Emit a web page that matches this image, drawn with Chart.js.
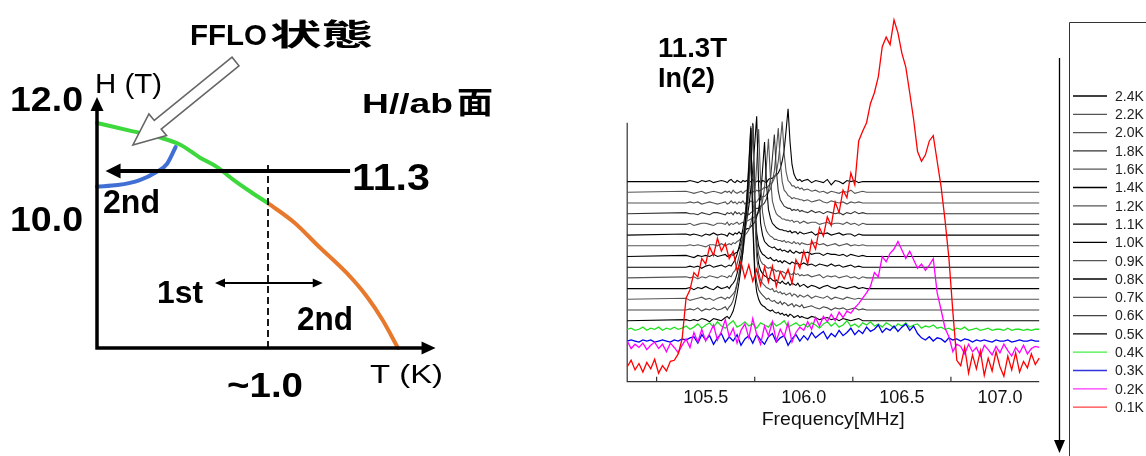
<!DOCTYPE html>
<html>
<head>
<meta charset="utf-8">
<title>FFLO NMR</title>
<script src="https://cdn.jsdelivr.net/npm/chart.js"></script>
<style>
  html, body { margin: 0; padding: 0; background: #fff; }
  body { width: 1146px; height: 456px; position: relative; overflow: hidden; }
  #phase { position: absolute; left: 0; top: 0; }
  #spectra { position: absolute; left: 560px; top: 0; }
</style>
</head>
<body>
<canvas id="phase" width="540" height="456"></canvas>
<canvas id="spectra" width="586" height="456"></canvas>
<script>
// ---------- phase diagram, H // ab ----------
const hTicks = [10.0, 12.0];
const fieldH = 11.3;   // field of the NMR sweep
const crossT = 1.0;    // where the transition changes order
const greenT = [0, 0.21, 0.37, 0.49, 0.60, 0.70, 0.80, 0.90, 1.0];
const greenH = [11.76, 11.68, 11.62, 11.55, 11.43, 11.34, 11.05, 10.72, 10.41];
const orangeT = [1.0, 1.15, 1.30, 1.46, 1.58, 1.67, 1.76];
const orangeH = [10.41, 9.69, 7.77, 5.77, 3.92, 2.15, 0.0];
const blueT = [0, 0.12, 0.25, 0.35, 0.41, 0.46];
const blueH = [10.87, 10.91, 11.05, 11.28, 11.37, 11.53];

// ---------- spectra at 11.3T, In(2) site ----------
const tempLabels = ["0.1K", "0.2K", "0.3K", "0.4K", "0.5K", "0.6K", "0.7K", "0.8K", "0.9K",
                    "1.0K", "1.1K", "1.2K", "1.4K", "1.6K", "1.8K", "2.0K", "2.2K", "2.4K"];
// vertical offset of each trace in the stack
const offsets = [2.0, 3.0, 3.8, 4.8, 5.7, 6.7, 7.7, 8.7, 9.7,
                 10.7, 11.7, 12.7, 13.7, 14.7, 15.7, 16.7, 17.7, 18.7];
const freqTicks = [105.5, 106.0, 106.5, 107.0];
const freqMinor = [105.25, 105.75, 106.25, 106.75];

const freqColor = [
  105.10, 105.12, 105.14, 105.16, 105.18, 105.20, 105.22, 105.24, 105.26, 105.28,
  105.30, 105.32, 105.34, 105.36, 105.38, 105.40, 105.42, 105.44, 105.46, 105.48,
  105.50, 105.52, 105.54, 105.56, 105.58, 105.60, 105.62, 105.64, 105.66, 105.68,
  105.70, 105.72, 105.74, 105.76, 105.78, 105.80, 105.82, 105.84, 105.86, 105.88,
  105.90, 105.92, 105.94, 105.96, 105.98, 106.00, 106.02, 106.04, 106.06, 106.08,
  106.10, 106.12, 106.14, 106.16, 106.18, 106.20, 106.22, 106.24, 106.26, 106.28,
  106.30, 106.32, 106.34, 106.36, 106.38, 106.40, 106.42, 106.44, 106.46, 106.48,
  106.50, 106.52, 106.54, 106.56, 106.58, 106.60, 106.62, 106.64, 106.66, 106.68,
  106.70, 106.72, 106.74, 106.76, 106.78, 106.80, 106.82, 106.84, 106.86, 106.88,
  106.90, 106.92, 106.94, 106.96, 106.98, 107.00, 107.02, 107.04, 107.06, 107.08,
  107.10, 107.12, 107.14, 107.16, 107.18, 107.20
];

const freqBlack = [
  105.10,
  105.40, 105.42, 105.44, 105.46, 105.48, 105.50, 105.52, 105.54, 105.56, 105.58,
  105.60, 105.61, 105.62, 105.63, 105.64, 105.65, 105.66, 105.67, 105.68, 105.69,
  105.70, 105.71, 105.72, 105.73, 105.74, 105.75, 105.76, 105.77, 105.78, 105.79,
  105.80, 105.81, 105.82, 105.83, 105.84, 105.85, 105.86, 105.87, 105.88, 105.89,
  105.90, 105.91, 105.92, 105.93, 105.94, 105.95, 105.96, 105.97, 105.98, 105.99,
  106.00, 106.02, 106.04, 106.06, 106.08, 106.10, 106.12, 106.14, 106.16, 106.18,
  106.20, 106.22, 106.24, 106.26, 106.28, 106.30, 106.32, 107.20
];

const sig01 = [
  -0.6, 0.0, -0.9, -0.3, -1.1, -0.2, -0.8, 0.1, -1.2, -0.5,
  -1.0, -0.1, 0.0, 0.6, 2.0, 5.8, 6.6, 8.2, 7.8, 9.5,
  9.0, 10.6, 9.8, 11.4, 10.2, 10.9, 9.5, 10.2, 8.4, 9.2,
  7.7, 8.9, 7.4, 8.5, 7.0, 8.7, 7.3, 8.8, 6.9, 8.3,
  7.6, 8.5, 7.2, 9.4, 8.6, 10.2, 9.0, 11.2, 10.4, 12.4,
  11.6, 13.4, 12.6, 14.8, 13.8, 15.9, 15.2, 17.5, 16.4, 20.5,
  21.4, 22.2, 24.0, 25.0, 26.5, 29.3, 30.2, 29.5, 31.8, 30.6,
  28.7, 27.4, 25.0, 22.5, 19.5, 18.6, 19.2, 20.5, 21.0, 18.6,
  16.2, 13.1, 9.5, 4.5, 0.0, -0.5, 1.2, -1.2, 0.5, -0.8,
  0.9, -1.4, 0.2, -1.0, 0.8, -0.6, -1.5, 0.4, -0.9, 0.7,
  -1.1, -0.1, -0.7, 0.6, -0.4, 0.2
];
const sig02 = [
  0.8, 0.1, 0.5, 0.2, 0.6, 0.0, 0.4, 0.7, 0.1, 0.5,
  -0.2, 0.6, 0.2, -0.3, 0.4, 1.0, 0.2, 1.6, 0.7, 1.9,
  0.8, 1.5, 2.3, 0.9, 1.7, 2.8, 1.2, 2.0, 0.6, 1.8,
  2.4, 1.1, 2.9, 1.4, 0.5, 2.2, 1.3, 2.6, 0.8, 1.9,
  1.2, 2.5, 0.7, 1.6, 2.1, 1.8, 2.6, 1.9, 3.0, 2.2,
  3.1, 2.6, 3.3, 2.7, 3.5, 3.0, 3.6, 3.4, 3.9, 4.3,
  4.8, 5.3, 5.9, 7.2, 6.8, 8.7, 8.2, 9.0, 9.4, 10.1,
  9.3, 8.5, 9.2, 8.4, 7.6, 8.0, 7.4, 7.9, 8.5, 5.3,
  3.7, 2.0, 1.2, -0.2, 0.5, 0.3, -0.4, 0.5, -0.2, 0.2,
  -0.6, 0.4, 0.0, -0.5, 0.3, -0.3, 0.5, -0.1, -0.6, 0.2,
  -0.3, 0.4, -0.4, 0.1, 0.3, 0.2
];
const sig03 = [
  0.0, 0.1, 0.0, -0.1, 0.1, 0.0, 0.1, -0.1, 0.0, 0.1,
  0.0, -0.1, 0.1, 0.0, 0.2, 0.1, 0.3, 0.4, -0.2, 0.6,
  0.1, 0.5, -0.3, 0.3, 0.7, -0.1, 0.4, 0.0, 0.6, -0.4,
  0.2, 0.5, -0.2, 0.6, 0.1, -0.3, 0.4, 0.7, -0.1, 0.3,
  0.5, -0.4, 0.2, 0.6, 0.0, 0.5, 0.1, 0.8, 0.3, 0.6,
  0.9, 0.2, 0.7, 0.4, 1.0, 0.5, 0.8, 1.2, 0.6, 1.0,
  0.7, 1.3, 0.9, 1.1, 1.5, 0.8, 1.2, 1.0, 1.4, 0.9,
  1.3, 1.6, 1.0, 1.4, 0.7, 0.3, 0.1, 0.4, 0.0, 0.3,
  0.2, -0.1, 0.3, 0.1, 0.2, 0.0, 0.2, 0.1, -0.1, 0.1,
  0.0, 0.1, 0.0, -0.1, 0.1, 0.0, 0.0, 0.1, -0.1, 0.0,
  0.1, 0.0, 0.0, 0.1, 0.0, 0.0
];
const sig04 = [
  0.1, 0.2, 0.0, 0.1, 0.3, 0.0, 0.2, 0.1, 0.3, 0.0,
  0.2, 0.1, 0.3, 0.1, 0.2, 0.4, 0.1, 0.3, 0.6, 0.2,
  0.5, 0.7, 0.3, 0.8, 0.4, 0.2, 0.6, 0.9, 0.3, 0.5,
  0.8, 0.4, 0.6, 0.2, 0.7, 0.5, 0.3, 0.8, 0.4, 0.6,
  0.9, 0.3, 0.5, 0.7, 0.4, 0.6, 0.3, 0.7, 0.5, 0.2,
  0.6, 0.8, 0.4, 0.7, 0.3, 0.5, 0.9, 0.4, 0.6, 0.3,
  0.7, 0.5, 0.8, 0.4, 0.6, 0.3, 0.7, 0.5, 0.2, 0.6,
  0.4, 0.7, 0.3, 0.5, 0.6, 0.2, 0.4, 0.3, 0.5, 0.2,
  0.3, 0.1, 0.2, 0.0, 0.2, 0.1, 0.3, 0.0, 0.1, 0.2,
  0.0, 0.1, 0.2, 0.0, 0.1, 0.1, 0.0, 0.2, 0.0, 0.1,
  0.1, 0.0, 0.1, 0.0, 0.1, 0.1
];
const sig05 = [
  0, 0.1, 0, 0.1, 0, 0.2, 0.1, -0.1, 0.2, 0.1,
  0, 0.3, 0.4, 0.2, 0.5, 0.9, 1.6, 2.5, 3.6, 4.9,
  6.5, 8.6, 11.2, 14.4, 18.0, 9.0, 4.3, 2.7, 2.0, 1.6,
  1.4, 1.3, 1.1, 1.0, 0.9, 1.0, 0.8, 0.7, 0.8, 0.6,
  0.7, 0.5, 0.6, 0.4, 0.6, 0.5, 0.3, 0.4, 0.5, 0.3,
  0.4, 0.3, 0.2, 0.4, 0.3, 0.1, 0.2, 0.3, 0.1, 0.2,
  0, 0.2, 0.1, 0, 0.1, 0.2, 0, 0, 0
];
const sig06 = [
  0, 0, 0.1, 0, 0.2, -0.1, 0.1, 0, 0.2, 0,
  0.1, 0.3, 0, 0.3, 0.5, 0.9, 1.6, 2.4, 3.4, 4.6,
  6.2, 8.3, 10.7, 13.8, 17.2, 8.6, 4.1, 2.6, 1.9, 1.6,
  1.4, 1.2, 1.0, 1.1, 0.9, 0.8, 0.9, 0.7, 0.6, 0.8,
  0.5, 0.7, 0.6, 0.4, 0.5, 0.6, 0.3, 0.5, 0.4, 0.3,
  0.5, 0.2, 0.3, 0.4, 0.2, 0.1, 0.3, 0.2, 0, 0.2,
  0.1, 0.2, 0, 0.1, 0.2, 0, 0.1, 0, 0
];
const sig07 = [
  0, 0.1, -0.1, 0, 0.1, 0.2, 0, 0.1, -0.1, 0.1,
  0.2, 0, 0.2, 0.1, 0.3, 0.5, 0.8, 1.5, 2.3, 3.3,
  4.4, 5.9, 7.8, 10.1, 13.0, 16.3, 8.2, 3.9, 2.5, 1.8,
  1.5, 1.3, 1.1, 1.0, 0.9, 1.0, 0.7, 0.8, 0.6, 0.7,
  0.5, 0.6, 0.4, 0.5, 0.6, 0.3, 0.5, 0.4, 0.2, 0.4,
  0.3, 0.2, 0.4, 0.1, 0.3, 0.2, 0.1, 0.3, 0, 0.2,
  0.1, 0, 0.2, 0.1, 0, 0.1, 0, 0, 0
];
const sig08 = [
  0, 0, 0.1, -0.1, 0.1, 0, 0.2, 0, -0.1, 0.2,
  0, 0.1, 0.2, 0, 0.3, 0.5, 0.8, 1.4, 2.2, 3.1,
  4.2, 5.5, 7.4, 9.6, 12.3, 15.4, 7.7, 3.7, 2.3, 1.7,
  1.4, 1.2, 1.1, 0.9, 1.0, 0.8, 0.7, 0.8, 0.6, 0.5,
  0.7, 0.5, 0.4, 0.6, 0.3, 0.5, 0.4, 0.3, 0.5, 0.2,
  0.3, 0.4, 0.1, 0.3, 0.2, 0, 0.2, 0.3, 0.1, 0,
  0.2, 0.1, 0, 0.1, 0.2, 0, 0.1, 0, 0
];
const sig09 = [
  0, 0.1, 0, 0.1, -0.1, 0.1, 0, 0.2, 0.1, 0,
  0.2, 0.1, 0, 0.2, 0.1, 0.5, 0.7, 1.3, 2.0, 2.9,
  3.9, 5.2, 7.0, 9.0, 11.6, 14.5, 7.3, 3.5, 2.2, 1.6,
  1.3, 1.2, 1.0, 0.9, 1.0, 0.7, 0.8, 0.6, 0.7, 0.5,
  0.6, 0.5, 0.4, 0.6, 0.4, 0.3, 0.5, 0.3, 0.4, 0.2,
  0.3, 0.2, 0.3, 0.1, 0.2, 0.3, 0, 0.2, 0.1, 0.2,
  0, 0.1, 0.2, 0, 0.1, -0.1, 0.1, 0, 0
];
const sig10 = [
  0, 0, 0.1, 0, 0.1, -0.1, 0.1, 0.2, 0, 0.1,
  0.2, 0, 0.1, 0.2, 0.1, 0.4, 0.7, 1.2, 1.9, 2.7,
  3.6, 4.8, 6.4, 8.3, 10.6, 13.3, 6.7, 3.2, 2.0, 1.5,
  1.2, 1.1, 0.9, 0.8, 0.9, 0.7, 0.6, 0.7, 0.5, 0.6,
  0.4, 0.6, 0.5, 0.4, 0.3, 0.5, 0.4, 0.3, 0.4, 0.2,
  0.3, 0.4, 0.2, 0.3, 0.1, 0.3, 0.2, 0.1, 0.3, 0.1,
  0.2, 0, 0.1, 0.2, 0, 0.1, 0, 0, 0
];
const sig11 = [
  0, 0.1, 0, -0.1, 0.1, 0, 0.1, 0, 0.2, 0,
  0.1, 0.2, 0, 0.1, 0.2, 0.1, 0.3, 0.4, 0.7, 1.2,
  1.8, 2.6, 3.5, 4.7, 6.3, 8.1, 10.5, 13.1, 6.6, 3.1,
  2.0, 1.4, 1.2, 1.0, 0.9, 0.8, 0.9, 0.7, 0.6, 0.7,
  0.5, 0.6, 0.5, 0.4, 0.6, 0.4, 0.3, 0.5, 0.4, 0.3,
  0.4, 0.3, 0.4, 0.2, 0.3, 0.3, 0.1, 0.3, 0.2, 0.2,
  0.1, 0.2, 0, 0.2, 0.1, 0, 0.1, 0, 0
];
const sig12 = [
  0, 0, 0.1, 0, 0.1, 0, -0.1, 0.1, 0.1, 0,
  0.2, 0, 0.1, 0.2, 0.1, 0.3, 0.2, 0.4, 0.5, 0.7,
  0.8, 1.0, 1.2, 1.5, 2.1, 3.0, 4.7, 7.6, 10.9, 6.0,
  3.1, 2.0, 1.4, 1.1, 0.9, 0.8, 0.6, 0.6, 0.5, 0.5,
  0.4, 0.5, 0.3, 0.4, 0.3, 0.2, 0.4, 0.2, 0.3, 0.1,
  0.3, 0.2, 0.1, 0.2, 0.3, 0.1, 0.2, 0, 0.1, 0.2,
  0, 0.1, 0.2, 0, 0.1, 0, 0.1, 0, 0
];
const sig14 = [
  0, 0.1, 0, 0.1, 0, -0.1, 0.1, 0, 0.2, 0,
  0.1, 0, -0.1, 0.2, 0.1, 0, 0.2, 0.1, 0.3, 0.1,
  0.2, 0.4, 0.6, 0.6, 0.8, 1.0, 1.2, 1.7, 2.4, 3.7,
  6.1, 8.7, 4.8, 2.4, 1.6, 1.1, 0.9, 0.7, 0.6, 0.5,
  0.5, 0.4, 0.4, 0.3, 0.4, 0.2, 0.3, 0.3, 0.1, 0.3,
  0.2, 0.1, 0.2, 0.3, 0, 0.2, 0.1, 0.2, 0, 0.1,
  0.2, 0, 0.1, 0.1, -0.1, 0.1, 0, 0, 0
];
const sig16 = [
  0, 0, 0.1, -0.1, 0, 0.1, 0.1, 0, -0.1, 0.1,
  0.1, 0, 0.2, -0.1, 0.1, 0, 0.1, 0.2, 0, 0.1,
  0.2, 0, 0.3, 0.4, 0.5, 0.6, 0.7, 0.9, 1.1, 1.5,
  2.2, 3.4, 5.6, 8.0, 4.4, 2.2, 1.5, 1.0, 0.8, 0.7,
  0.5, 0.5, 0.4, 0.4, 0.3, 0.4, 0.2, 0.3, 0.3, 0.1,
  0.2, 0.3, 0.1, 0.2, 0.2, 0, 0.1, 0.2, 0, 0.1,
  0.1, 0, 0.2, 0, 0.1, -0.1, 0.1, 0, 0
];
const sig18 = [
  0, 0.1, 0, 0, -0.1, 0.1, 0, -0.1, 0.1, 0.1,
  0, -0.1, 0.1, 0, 0.1, -0.1, 0.2, 0, 0.1, -0.1,
  0.1, 0, 0.2, -0.1, 0.1, 0.2, 0.4, 0.5, 0.5, 0.7,
  0.8, 1.0, 1.4, 2.1, 3.2, 5.2, 7.4, 4.1, 2.1, 1.3,
  1.0, 0.7, 0.6, 0.5, 0.5, 0.3, 0.4, 0.3, 0.4, 0.2,
  0.3, 0.2, 0.1, 0.3, 0.1, 0.2, 0, 0.2, 0.1, 0,
  0.1, -0.1, 0.1, 0, 0.2, 0, 0.1, 0, 0
];
const sig20 = [
  0, 0, 0.1, 0, 0.1, -0.1, 0, 0.1, 0, -0.1,
  0, 0.1, -0.1, 0, 0.2, 0, 0.1, -0.1, 0.1, 0,
  0.2, -0.1, 0.1, 0, 0.2, 0.1, 0, 0.1, 0.4, 0.3,
  0.6, 0.6, 0.8, 1.0, 1.3, 2.0, 3.0, 4.9, 7.0, 3.9,
  2.0, 1.2, 1.0, 0.7, 0.6, 0.4, 0.5, 0.4, 0.4, 0.3,
  0.3, 0.2, 0.3, 0.1, 0.2, 0.3, 0.1, 0, 0.2, 0.1,
  0, 0.1, -0.1, 0.1, 0, 0.1, 0, 0, 0
];
const sig22 = [
  0, 0.1, 0, -0.1, 0, 0.1, -0.1, 0, 0.1, 0,
  -0.1, 0.1, 0, 0.1, -0.1, 0.2, 0, -0.1, 0, 0.1,
  -0.1, 0.1, 0.2, 0, -0.1, 0.1, 0, 0.2, 0.1, 0.2,
  0.3, 0.5, 0.4, 0.6, 0.8, 0.9, 1.3, 1.8, 2.9, 4.6,
  6.6, 3.6, 1.9, 1.1, 0.9, 0.6, 0.6, 0.4, 0.5, 0.3,
  0.4, 0.2, 0.3, 0.1, 0.2, 0, 0.1, -0.1, 0.1, 0,
  -0.1, 0.1, 0, 0.2, -0.1, 0, 0.1, 0, 0
];
const sig24 = [
  0, 0, 0.1, 0, -0.1, 0.1, 0, 0.1, -0.1, 0,
  0.1, 0, -0.1, 0.1, 0.2, 0, -0.1, 0.1, 0, -0.1,
  0.1, 0, 0.1, -0.1, 0, 0.2, -0.1, 0, 0.1, -0.1,
  0.1, 0, -0.1, 0.2, 0.3, 0.3, 0.5, 0.6, 0.8, 1.2,
  1.9, 2.9, 4.8, 6.8, 3.7, 1.6, 0.7, 0.3, 0.1, 0.2,
  0, 0.1, 0.2, -0.1, 0.1, 0, -0.1, 0.2, -0.3, 0.1,
  0, -0.2, 0.1, 0, 0.1, -0.1, 0, 0, 0
];

const signals = [sig01, sig02, sig03, sig04, sig05, sig06, sig07, sig08, sig09,
                 sig10, sig11, sig12, sig14, sig16, sig18, sig20, sig22, sig24];
const traceColors = ["#ff0000", "#ff00ff", "#0000ee", "#22e022",
  "#000", "#444", "#555", "#000", "#555", "#000", "#000", "#555", "#000", "#555", "#333", "#555", "#555", "#000"];
const legendColors = ["#ff4040", "#ff33ff", "#3333dd", "#44ee44"];

const FONT = "'Liberation Sans', Arial, sans-serif";
const CJK = "'Noto Sans CJK JP', sans-serif";

// draws text squeezed/stretched to a given width
function fitText(ctx, text, x, y, font, width, align) {
  ctx.save();
  ctx.font = font;
  ctx.textBaseline = "alphabetic";
  ctx.textAlign = "left";
  const w = ctx.measureText(text).width;
  ctx.translate(x, y);
  ctx.scale(width / w, 1);
  ctx.fillText(text, align === "center" ? -w / 2 : 0, 0);
  ctx.restore();
}

function arrowHead(ctx, x, y, angle, len, half) {
  ctx.save();
  ctx.translate(x, y);
  ctx.rotate(angle);
  ctx.beginPath();
  ctx.moveTo(0, 0);
  ctx.lineTo(-len, -half);
  ctx.lineTo(-len, half);
  ctx.closePath();
  ctx.fill();
  ctx.restore();
}

// H axis of the sketch is not to scale: piecewise linear between labelled fields
const hKnots = [[0, 0], [10.0, 0.52], [11.3, 0.708], [12.0, 1.0]];
class PiecewiseScale extends Chart.LinearScale {
  static id = "piecewise";
  static defaults = Chart.LinearScale.defaults;
  getPixelForValue(value) {
    let i = 1;
    while (i < hKnots.length - 1 && value > hKnots[i][0]) i++;
    const a = hKnots[i - 1], b = hKnots[i];
    return this.getPixelForDecimal(a[1] + (value - a[0]) / (b[0] - a[0]) * (b[1] - a[1]));
  }
  getValueForPixel(pixel) {
    const d = this.getDecimalForPixel(pixel);
    let i = 1;
    while (i < hKnots.length - 1 && d > hKnots[i][1]) i++;
    const a = hKnots[i - 1], b = hKnots[i];
    return a[0] + (d - a[1]) / (b[1] - a[1]) * (b[0] - a[0]);
  }
}
Chart.register(PiecewiseScale);

const phaseDecor = {
  id: "phaseDecor",
  afterDatasetsDraw(chart) {
    const { ctx, scales: { x, y } } = chart;
    const px = t => x.getPixelForValue(t);
    const py = h => y.getPixelForValue(h);
    ctx.save();
    ctx.fillStyle = "#000";
    ctx.strokeStyle = "#000";

    // axes with arrow heads
    ctx.lineWidth = 3.5;
    ctx.beginPath();
    ctx.moveTo(px(0), py(0) + 1.5);
    ctx.lineTo(px(0), py(12) + 10);
    ctx.moveTo(px(0) - 1.5, py(0));
    ctx.lineTo(px(1.98) - 10, py(0));
    ctx.stroke();
    arrowHead(ctx, px(0), py(12) - 1, -Math.PI / 2, 14, 6.5);
    arrowHead(ctx, px(1.98), py(0), 0, 14, 6.5);

    // field sweep at 11.3 T
    ctx.lineWidth = 4;
    ctx.beginPath();
    ctx.moveTo(px(1.48), py(fieldH));
    ctx.lineTo(px(0.05) + 10, py(fieldH));
    ctx.stroke();
    arrowHead(ctx, px(0.05), py(fieldH), Math.PI, 15, 7.5);

    // crossover temperature
    ctx.lineWidth = 1.8;
    ctx.setLineDash([7, 4]);
    ctx.beginPath();
    ctx.moveTo(px(crossT), py(0));
    ctx.lineTo(px(crossT), py(11.38));
    ctx.stroke();
    ctx.setLineDash([]);

    // 1st <-> 2nd
    const ay = py(5.0);
    ctx.lineWidth = 2;
    ctx.beginPath();
    ctx.moveTo(px(0.69) + 6, ay);
    ctx.lineTo(px(1.32) - 6, ay);
    ctx.stroke();
    arrowHead(ctx, px(0.69), ay, Math.PI, 10, 4.5);
    arrowHead(ctx, px(1.32), ay, 0, 10, 4.5);

    // hollow pointer to the FFLO region
    const tip = [px(0.21), py(11.55)], tail = [px(0.81), py(12.35)];
    const dx = tail[0] - tip[0], dy = tail[1] - tip[1], L = Math.hypot(dx, dy);
    const ux = dx / L, uy = dy / L, nx = -uy, ny = ux;
    const head = 32, hw = 14, sw = 5.5;
    const bx = tip[0] + ux * head, by = tip[1] + uy * head;
    ctx.beginPath();
    ctx.moveTo(tip[0], tip[1]);
    ctx.lineTo(bx + nx * hw, by + ny * hw);
    ctx.lineTo(bx + nx * sw, by + ny * sw);
    ctx.lineTo(tail[0] + nx * sw, tail[1] + ny * sw);
    ctx.lineTo(tail[0] - nx * sw, tail[1] - ny * sw);
    ctx.lineTo(bx - nx * sw, by - ny * sw);
    ctx.lineTo(bx - nx * hw, by - ny * hw);
    ctx.closePath();
    ctx.fillStyle = "#fff";
    ctx.fill();
    ctx.strokeStyle = "#666";
    ctx.lineWidth = 1.6;
    ctx.stroke();

    // labels
    ctx.fillStyle = "#000";
    fitText(ctx, "FFLO", 190, 45, "bold 30px " + FONT, 77);
    fitText(ctx, "状態", 270, 45, "bold 30px " + CJK, 103);
    fitText(ctx, "H (T)", 95, 93, "28px " + FONT, 67);
    fitText(ctx, "H//ab", 362, 113, "bold 28px " + FONT, 91);
    fitText(ctx, "面", 457, 113, "bold 30px " + CJK, 36);
    hTicks.forEach(h => fitText(ctx, h.toFixed(1), 10, py(h) + 12.5, "bold 35px " + FONT, 73));
    fitText(ctx, fieldH.toFixed(1), 352, py(fieldH) + 19, "bold 37px " + FONT, 78);
    fitText(ctx, "2nd", 103, 213, "bold 34px " + FONT, 57);
    fitText(ctx, "1st", 157, 303, "bold 32px " + FONT, 46);
    fitText(ctx, "2nd", 297, 330, "bold 34px " + FONT, 56);
    fitText(ctx, "~" + crossT.toFixed(1), px(crossT) - 3, 397, "bold 35px " + FONT, 76, "center");
    fitText(ctx, "T (K)", 370, 383, "25px " + FONT, 73);
    ctx.restore();
  }
};

const curve = (ts, hs, color) => ({
  data: ts.map((t, i) => ({ x: t, y: hs[i] })),
  borderColor: color,
  borderWidth: 4,
  pointRadius: 0,
  cubicInterpolationMode: "monotone",
  borderCapStyle: "round",
  clip: false
});

new Chart(document.getElementById("phase"), {
  type: "line",
  data: {
    datasets: [
      curve(blueT, blueH, "#4070d4"),
      curve(greenT, greenH, "#3cd83c"),
      curve(orangeT, orangeH, "#e8792c")
    ]
  },
  options: {
    responsive: false,
    devicePixelRatio: 1,
    animation: false,
    events: [],
    layout: { padding: { left: 97, right: 101, top: 98, bottom: 108 } },
    plugins: { legend: { display: false }, tooltip: { enabled: false } },
    scales: {
      x: { type: "linear", min: 0, max: 2.0, display: false },
      y: { type: "piecewise", min: 0, max: 12.0, display: false }
    }
  },
  plugins: [phaseDecor]
});

// ---------- stacked spectra ----------
const spectraDecor = {
  id: "spectraDecor",
  beforeDatasetsDraw(chart) {
    const { ctx, scales: { x, y } } = chart;
    const x0 = x.getPixelForValue(x.min), x1 = x.getPixelForValue(x.max);
    const y0 = y.getPixelForValue(0);
    ctx.save();
    ctx.strokeStyle = "#333";
    ctx.lineWidth = 1.2;
    ctx.beginPath();
    ctx.moveTo(x0, y.getPixelForValue(24.2));
    ctx.lineTo(x0, y0);
    ctx.lineTo(x1, y0);
    freqMinor.forEach(f => {
      const fx = x.getPixelForValue(f);
      ctx.moveTo(fx, y0);
      ctx.lineTo(fx, y0 - 5);
    });
    ctx.stroke();
    ctx.restore();
  },
  afterDraw(chart) {
    const { ctx, scales: { x }, chartArea } = chart;
    ctx.save();
    ctx.fillStyle = "#111";
    ctx.font = "18px " + FONT;
    ctx.textAlign = "center";
    ctx.textBaseline = "alphabetic";
    freqTicks.forEach(f => ctx.fillText(f.toFixed(1), x.getPixelForValue(f), 403));
    fitText(ctx, "Frequency[MHz]", (chartArea.left + chartArea.right) / 2, 425, "18px " + FONT, 143, "center");

    ctx.fillStyle = "#000";
    fitText(ctx, "11.3T", 98, 57, "bold 27px " + FONT, 69);
    fitText(ctx, "In(2)", 98, 87, "bold 27px " + FONT, 57);

    // legend box
    ctx.strokeStyle = "#333";
    ctx.lineWidth = 1;
    ctx.beginPath();
    ctx.moveTo(509.5, 456);
    ctx.lineTo(509.5, 22.5);
    ctx.lineTo(586, 22.5);
    ctx.stroke();
    const sets = chart.data.datasets;
    ctx.font = "14px " + FONT;
    ctx.textAlign = "left";
    ctx.textBaseline = "middle";
    for (let k = 0; k < sets.length; k++) {
      const ds = sets[sets.length - 1 - k];
      const ly = 96 + k * 18.3;
      ctx.strokeStyle = ds.legendColor;
      ctx.lineWidth = 1.3;
      ctx.beginPath();
      ctx.moveTo(513, ly);
      ctx.lineTo(547, ly);
      ctx.stroke();
      ctx.fillStyle = "#222";
      ctx.fillText(ds.label, 555, ly + 1);
    }

    // temperature arrow beside the legend
    ctx.strokeStyle = "#000";
    ctx.fillStyle = "#000";
    ctx.lineWidth = 1.3;
    ctx.beginPath();
    ctx.moveTo(499.5, 58);
    ctx.lineTo(499.5, 442);
    ctx.stroke();
    arrowHead(ctx, 499.5, 453, Math.PI / 2, 13, 5.5);
    ctx.restore();
  }
};

const spectraSets = tempLabels.map((label, i) => {
  const freq = i < 4 ? freqColor : freqBlack;
  return {
    label: label,
    data: freq.map((f, j) => ({ x: f, y: signals[i][j] + offsets[i] })),
    borderColor: traceColors[i],
    legendColor: i < 4 ? legendColors[i] : traceColors[i],
    borderWidth: i < 4 ? 1.3 : 1.1,
    pointRadius: 0,
    tension: 0,
    clip: false
  };
});

new Chart(document.getElementById("spectra"), {
  type: "line",
  data: { datasets: spectraSets },
  options: {
    responsive: false,
    devicePixelRatio: 1,
    animation: false,
    events: [],
    layout: { padding: { left: 67.2, right: 106.8, top: 12.5, bottom: 74.3 } },
    plugins: { legend: { display: false }, tooltip: { enabled: false } },
    scales: {
      x: { type: "linear", min: 105.1, max: 107.2, display: false },
      y: { type: "linear", min: 0, max: 34.5, display: false }
    }
  },
  plugins: [spectraDecor]
});
</script>
</body>
</html>
